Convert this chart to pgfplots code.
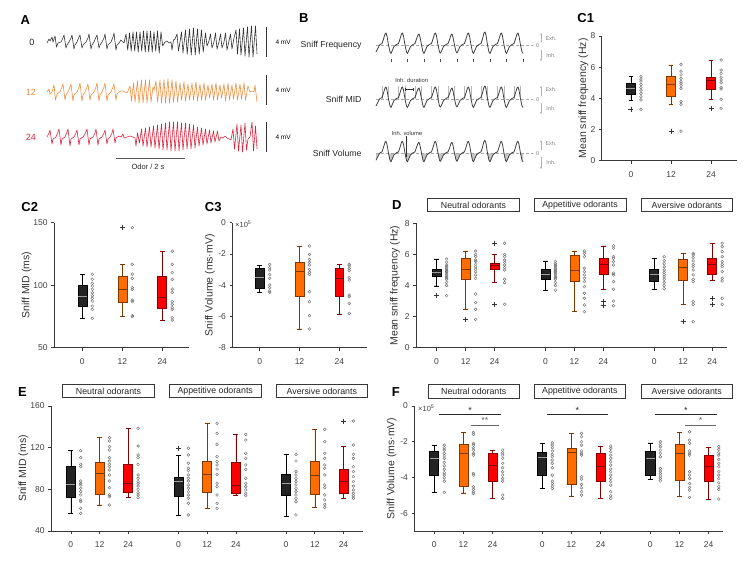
\documentclass[border=0pt]{standalone}
\usepackage{fontspec}
\setmainfont{Liberation Sans}
\usepackage{pgfplots}
\usepackage{pgfplotstable}
\pgfplotsset{compat=1.18}
\usepgfplotslibrary{statistics}
\usetikzlibrary{arrows.meta}

\definecolor{cOr}{RGB}{255,108,0}
\definecolor{cOrD}{RGB}{130,55,0}
\definecolor{cRd}{RGB}{250,0,0}
\definecolor{cRdD}{RGB}{135,0,0}
\definecolor{cBk}{RGB}{35,35,35}
\definecolor{cPt}{RGB}{115,115,115}
\definecolor{cAx}{RGB}{55,55,55}
\definecolor{cTK}{RGB}{50,50,50}
\definecolor{cTO}{RGB}{240,140,60}
\definecolor{cTR}{RGB}{220,35,60}

\pgfplotsset{
  bx/.style={
    scale only axis, axis lines=left,
    axis line style={-, draw=cAx, line width=0.6pt},
    tick align=outside, major tick length=2.8pt,
    tick style={draw=cAx, line width=0.6pt},
    ticklabel style={font=\fontsize{8.5}{10}\selectfont, text=black!75},
    xticklabel style={yshift=-4.5pt},
    /pgf/number format/assume math mode=true,
    ylabel style={font=\fontsize{10.5}{12}\selectfont, text=black!80, anchor=center},
    clip=false, anchor=south west,
    boxplot/draw direction=y,
  },
  bxC/.style={bx, boxplot/box extend=0.225, boxplot/whisker extend=0.12, xtick={1,2,3}, xticklabels={0,12,24}},
  bxG/.style={bx, boxplot/box extend=0.31, boxplot/whisker extend=0.17},
  tr/.style={hide axis, scale only axis, clip=false, anchor=west, width=210pt, height=40pt, xmin=0, xmax=210, ymin=-20, ymax=20},
  trb/.style={hide axis, scale only axis, clip=false, anchor=west, width=160pt, height=40pt, xmin=0, xmax=160, ymin=-20, ymax=20},
}

\newcommand{\bx}[9]{\addplot[boxplot prepared={draw direction=y, draw position=#1, lower whisker=#2, lower quartile=#3, median=#4, upper quartile=#5, upper whisker=#6}, fill=#7, draw=#8, line width=0.55pt, boxplot/every median/.style={draw=#9, line width=0.7pt}] coordinates {};}
\newcommand{\bxK}[6]{\bx{#1}{#2}{#3}{#4}{#5}{#6}{cBk}{black}{gray!75}}
\newcommand{\bxO}[6]{\bx{#1}{#2}{#3}{#4}{#5}{#6}{cOr}{cOrD}{cOrD}}
\newcommand{\bxR}[6]{\bx{#1}{#2}{#3}{#4}{#5}{#6}{cRd}{cRdD}{cRdD}}
\newcommand{\pts}[2]{\addplot[only marks, mark=o, mark size=1.4pt, draw=cPt, line width=0.45pt] table[header=false, x expr=#1, y index=0, row sep=\\] {#2};}
\newcommand{\ol}[2]{\addplot[only marks, mark=+, mark size=2.5pt, draw=black!80, line width=0.6pt] coordinates {(#1,#2)};}

% one idealised sniff trace used in panel B
\pgfplotstableread{
x y
0 -7
1.5 -4
3 -1
4 0.5
6 1.5
7.5 6
9 11
10 12
11 9
12.5 0
14 -7
15 -8.5
16.5 -5
18 -1.5
20.5 0.5
22.5 1.5
24 6
25.5 11
26.5 12
27.5 9
29 0
30.5 -7
31.5 -8.5
33 -5
34.5 -1.5
37 0.5
39 1.5
40.5 6
42 10
43 11
44 8
45.5 0
47 -7
48 -8.5
49.5 -5
51 -1.5
53.5 0.5
55.5 1.5
57 6
58.5 11
59.5 12
60.5 9
62 0
63.5 -7
64.5 -8
66 -5
67.5 -1.5
70 0.5
72 1.5
73.5 5
75 10
76 11
77 8
78.5 0
80 -6.5
81 -8
82.5 -5
84 -1.5
86.5 0.5
88.5 1.5
90 6
91.5 11
92.5 12
93.5 9
95 0
96.5 -7
97.5 -8.5
99 -5
100.5 -1.5
103 0.5
105 1.5
106.5 6
108 12
109 13
110 10
111.5 0
113 -7
114 -8.5
115.5 -5
117 -1.5
119.5 0.5
121.5 1.5
123 6
124.5 11
125.5 12
126.5 9
128 0
129.5 -7
130.5 -8.5
132 -5
133.5 -1.5
136 0.5
138 1.5
139.5 6
141 11
142 12
143 9
144.5 0
146 -7
147 -8.5
}\tblB

\begin{document}
\begin{tikzpicture}
\path[use as bounding box] (0,0) rectangle (756pt,-565pt);

% ================= Panel A traces =================
\begin{axis}[tr, at={(47pt,-42pt)}]
\addplot[cTK, line width=0.6pt, line join=round] coordinates {
(0,-1)(2,3)(3,1)(5,5)(6,0)(8,6)(9.5,-5)(11,-1)
(14,0)(16,4)(17,7)(19,-6)(20,-3)
(22,0)(24,4)(25,7)(27,-7)(28,-3)
(30,0)(32,5)(33,7)(35,-6)(36,-3)
(39,0)(41,4)(42,8)(44,-7)(45,-3)
(47,0)(49,5)(50,7)(52,-6)(53,-3)
(55,0)(57,4)(58,8)(60,-7)(61,-3)
(64,0)(66,5)(67,9)(69,-8)(70,-3)
(72,-1)(74,2)(75,1)(77,-1)
(79,8)(80.7,-8)(82.5,9)(84.2,-9)(86,10)(87.7,-9)(89.5,10)(91.2,-10)(93,10)(94.7,-9)(96.5,11)(98.2,-10)(100,11)(101.7,-10)(103.5,11)(105.2,-10)(107,10)(108.7,-9)(110.5,11)(112.2,-11)(114,10)(115.7,-4)
(118,0)(120,1)(122,-1)(124,0)(125,-8)(126.5,2)
(128,3)(130,8)(131.5,-9)(133,0)(134.5,10)(136,-11)(138.5,12)(140.2,-12)(142.5,13)(144.2,-13)(146.5,14)(148.2,-13)(150.5,13)(152.2,-12)(154.5,12)(156.2,-10)(158.5,9)(160,-4)
(162,1)(163.5,8)(165,-6)(167,0)(168.5,9)(170,-7)(172,0)(173.5,8)(175,-6)(177,0)(178.5,9)(180,-8)(182,1)(183.5,8)(185,-7)
(187,4)(189,12)(190.5,-12)(192.5,13)(194,-13)(196.5,14)(198,-14)(200.5,15)(202,-15)(204.5,16)(206,-15)(208.5,16)(210,-12)};
\end{axis}

\begin{axis}[tr, at={(47pt,-92pt)}]
\addplot[cTO, line width=0.6pt, line join=round] coordinates {
(0,0)(2,3)(3,-2)(5,0)(7,7)(8.5,-8)(10,-2)
(13,0)(15,5)(16,8)(18,-8)(19,-3)
(21,0)(23,5)(24,8)(26,-9)(27,-3)
(30,0)(32,5)(33,9)(35,-9)(36,-3)
(38,0)(40,5)(41,8)(43,-8)(44,-3)
(47,0)(49,5)(50,9)(52,-9)(53,-3)
(55,0)(57,5)(58,9)(60,-9)(61,-3)
(64,0)(66,5)(67,8)(69,-8)(70,-2)
(72,0)(74,1)(76,1)(78,0)(80,-1)(81,1)
(83,6)(84.5,-9)(86.5,9)(88,-10)(90.5,11)(92,-11)(94.5,12)(96,-11)(98.5,12)(100,-11)(102.5,12)(104,-10)(106,5)(107,2)(109,11)(110.5,-10)(113,12)(114.5,-11)(117,12)(118.5,-11)(121,13)(122.5,-11)(125,12)(126.5,-10)(129,11)(130.5,-10)(133,9)(134.5,-8)(137,10)(138.5,-9)(141,8)(142.5,-8)(145,9)(146.5,-8)(149,10)(150.5,-9)(153,8)(154.5,-8)(157,9)(158.5,-8)(161,7)(162.5,-6)(165,8)(166.5,-8)(169,9)(170.5,-8)(173,7)(174.5,-6)(177,8)(178.5,-9)(181,9)(182.5,-8)(185,7)(186.5,-7)(189,9)(190.5,-8)(193,8)(194.5,-7)(197,9)(198.5,-8)(201,6)(203,0)(205,1)(207,0)(208,7)(210,-10)};
\end{axis}

\begin{axis}[tr, at={(47pt,-137pt)}]
\addplot[cTR, line width=0.6pt, line join=round] coordinates {
(0,0)(2,4)(3,7)(5,-7)(6,-2)
(9,0)(11,5)(12,8)(14,-8)(15,-2)
(18,0)(20,5)(21,8)(23,-9)(24,-2)
(27,0)(29,4)(30,7)(32,-8)(33,-2)
(36,0)(38,3)(40,8)(42,-8)(43,-2)
(46,0)(48,4)(49,8)(51,-8)(52,-2)
(55,0)(57,4)(58,7)(60,-7)(61,-2)
(63,0)(65,4)(66,8)(68,-6)(69,-1)
(72,1)(74,0)(76,3)(77,-1)(80,0)(83,1)(86,0)(88,-1)
(89,-9)(90.5,4)(92.5,-6)(94.5,8)(96,-9)(98.5,9)(100,-10)(102.5,10)(104,-10)(106.5,11)(108,-11)(110.5,12)(112,-12)(114.5,13)(116,-13)(118.5,14)(120,-13)(122.5,15)(124,-14)(126.5,15)(128,-14)(130.5,15)(132,-14)(134.5,14)(136,-13)(138.5,14)(140,-12)(142.5,13)(144,-12)(146.5,12)(148,-11)(150.5,10)(152,-9)(154.5,9)(156,-8)(158.5,8)(160,-7)(162.5,7)(164,-6)(166.5,6)(168,-5)(170.5,6)(172,-4)
(174,0)(176,-1)(178,1)(180,-1)(182,-2)(184,-3)
(186,8)(187.5,-12)(190,13)(191.5,-14)(194,12)(195.5,-15)(198,14)(199.5,-13)(201,-2)(203,0)(205,15)(206.5,-14)(208.5,11)(210,-12)};
\end{axis}

% ================= Panel B traces =================
\begin{axis}[trb, at={(376pt,-45pt)}]
\draw[densely dashed, gray!70, line width=0.5pt] (axis cs:0,0) -- (axis cs:157,0);
\addplot[black!75, line width=0.8pt, line join=round] table[x=x, y=y] {\tblB};
\addplot[only marks, mark=|, mark size=1.6pt, draw=black!70, line width=0.6pt] coordinates {(15,-15.5)(31.5,-15.5)(48,-15.5)(64.5,-15.5)(81,-15.5)(97.5,-15.5)(114,-15.5)(130.5,-15.5)(147,-15.5)};
\end{axis}

\begin{axis}[trb, at={(376pt,-99pt)}]
\addplot[ycomb, draw=gray!55, line width=0.35pt] coordinates {(6,13)(22.5,13)(39,13)(55.5,13)(72,13)(88.5,13)(105,13)(121.5,13)(138,13)(12.5,13)(29,13)(45.5,13)(62,13)(78.5,13)(95,13)(111.5,13)(128,13)(144.5,13)};
\draw[densely dashed, gray!70, line width=0.5pt] (axis cs:0,0) -- (axis cs:157,0);
\addplot[black!75, line width=0.8pt, line join=round] table[x=x, y=y] {\tblB};
\draw[black!80, line width=0.5pt] (axis cs:29,8.2) -- (axis cs:29,11.2) (axis cs:29,9.7) -- (axis cs:37.3,9.7) (axis cs:37.3,8.2) -- (axis cs:37.3,11.2);
\end{axis}

\begin{axis}[trb, at={(376pt,-153.3pt)}]
\addplot[fill=gray!45, draw=none] table[x=x, y expr={min(\thisrow{y},0)}] {\tblB} \closedcycle;
\draw[densely dashed, gray!70, line width=0.5pt] (axis cs:0,0) -- (axis cs:157,0);
\addplot[black!75, line width=0.8pt, line join=round] table[x=x, y=y] {\tblB};
\draw[black!80, line width=0.6pt] (axis cs:30,17) -- (axis cs:30,-4);
\end{axis}

% ================= C1 =================
\begin{axis}[bxC, at={(601.7pt,-160.7pt)}, width=135pt, height=124.7pt,
  xmin=0.27, xmax=3.64, ymin=0, ymax=8, ytick={0,2,4,6,8},
  ylabel={Mean sniff frequency (Hz)}, ylabel style={at={(axis description cs:-0.136,0.5)}}]
\bxK{1}{3.89}{4.28}{4.62}{4.98}{5.39}
\bxO{2}{3.61}{4.15}{4.9}{5.39}{6.14}
\bxR{3}{3.94}{4.6}{5.18}{5.35}{6.46}
\ol{1}{3.29}\ol{2}{1.9}\ol{3}{3.36}
\pts{1.25}{5.39\\5.24\\5.11\\4.9\\4.7\\4.53\\4.32\\4.1\\3.9\\3.29\\}
\pts{2.25}{6.18\\5.75\\5.5\\5.28\\5.07\\4.96\\4.81\\4.64\\3.79\\3.61\\1.9\\}
\pts{3.25}{6.46\\5.82\\5.6\\5.35\\5.18\\5.0\\4.7\\4.6\\3.94\\3.36\\}
\end{axis}

% ================= C2 =================
\begin{axis}[bxC, at={(54pt,-347.7pt)}, width=135pt, height=125pt,
  xmin=0.29, xmax=3.67, ymin=50, ymax=150, ytick={50,100,150},
  ylabel={Sniff MID (ms)}, ylabel style={at={(axis description cs:-0.202,0.5)}}]
\bxK{1}{73.5}{82.8}{91.3}{100.1}{108.7}
\bxO{2}{74.8}{86}{96.9}{107.3}{116.7}
\bxR{3}{72.1}{81.5}{90.3}{107.3}{126.8}
\ol{2}{146}
\pts{1.25}{108.7\\104.7\\101.5\\99.3\\96.7\\94\\91.6\\89.5\\87.3\\83.3\\80.7\\73.5\\}
\pts{2.25}{146\\116.7\\108.9\\105.5\\98\\96.7\\88.1\\86.8\\75.6\\74.8\\}
\pts{3.25}{127.3\\116.7\\110\\104.7\\96.9\\94.3\\86.8\\84.7\\82\\80.7\\74\\72.1\\}
\end{axis}

% ================= C3 =================
\begin{axis}[bxC, at={(232.3pt,-347.7pt)}, width=134.4pt, height=125pt,
  xmin=0.31, xmax=3.69, ymin=-8, ymax=0, ytick={-8,-6,-4,-2,0},
  ylabel={Sniff Volume (ms·mV)}, ylabel style={at={(axis description cs:-0.166,0.5)}}]
\bxK{1}{-4.46}{-4.2}{-3.5}{-2.92}{-2.71}
\bxO{2}{-6.8}{-4.74}{-3.14}{-2.54}{-1.49}
\bxR{3}{-5.87}{-4.74}{-3.56}{-2.92}{-2.67}
\pts{1.25}{-2.67\\-2.88\\-3.03\\-3.31\\-3.56\\-3.99\\-4.16\\-4.37\\-4.46\\}
\pts{2.25}{-1.49\\-2.03\\-2.35\\-2.54\\-2.71\\-2.99\\-3.18\\-3.31\\-4.42\\-5.06\\-5.95\\-6.8\\}
\pts{3.25}{-2.67\\-2.77\\-2.92\\-3.07\\-3.52\\-3.67\\-4.63\\-4.74\\-5.16\\-5.8\\}
\end{axis}

% ================= D =================
\begin{axis}[bxG, at={(416pt,-347.7pt)}, width=310.7pt, height=124.4pt,
  xmin=-0.71, xmax=10.0, ymin=0, ymax=8, ytick={0,2,4,6,8},
  xtick={0,1,2,3.75,4.75,5.75,7.5,8.5,9.5}, xticklabels={0,12,24,0,12,24,0,12,24},
  ylabel={Mean sniff frequency (Hz)}, ylabel style={at={(axis description cs:-0.0676,0.5)}}]
\bxK{0}{3.97}{4.57}{4.83}{5.06}{5.71}
\bxO{1}{2.47}{4.4}{5.04}{5.75}{6.22}
\bxR{2}{4.18}{5.04}{5.32}{5.43}{6.0}
\ol{0}{3.35}\ol{1}{1.82}\ol{2}{6.72}\ol{2}{2.79}
\pts{0.345}{5.7\\5.5\\5.3\\5.2\\5.1\\5.0\\4.9\\4.8\\4.7\\4.6\\4.5\\4.4\\4.2\\4.0\\3.35\\}
\pts{1.345}{6.22\\6.0\\5.86\\5.64\\5.54\\5.36\\5.21\\5.04\\4.89\\4.68\\4.46\\3.45\\2.9\\2.47\\1.82\\}
\pts{2.345}{6.72\\6.0\\5.86\\5.64\\5.49\\5.32\\5.15\\5.0\\4.4\\4.18\\2.79\\}
\bxK{3.75}{3.71}{4.42}{4.74}{5.04}{5.58}
\bxO{4.75}{2.32}{4.25}{4.95}{5.97}{6.22}
\bxR{5.75}{3.76}{4.74}{5.36}{5.75}{6.55}
\ol{5.75}{3.0}\ol{5.75}{2.7}
\pts{4.095}{5.55\\5.4\\5.3\\5.2\\5.1\\5.0\\4.9\\4.8\\4.7\\4.6\\4.5\\4.4\\4.2\\4.0\\3.7\\}
\pts{5.095}{6.22\\6.07\\5.86\\5.11\\4.89\\4.68\\4.46\\4.25\\3.93\\3.5\\3.18\\2.75\\2.32\\}
\pts{6.095}{6.55\\6.39\\5.86\\5.75\\5.54\\5.32\\4.79\\4.68\\4.25\\3.76\\3.0\\2.7\\}
\bxK{7.5}{3.76}{4.29}{4.72}{5.04}{5.75}
\bxO{8.5}{2.81}{4.36}{5.15}{5.69}{6.07}
\bxR{9.5}{4.31}{4.74}{5.36}{5.75}{6.72}
\ol{8.5}{1.67}\ol{9.5}{3.18}\ol{9.5}{2.79}
\pts{7.845}{5.85\\5.6\\5.4\\5.2\\5.0\\4.85\\4.7\\4.55\\4.4\\4.2\\4.0\\3.8\\}
\pts{8.845}{6.07\\5.97\\5.79\\5.58\\5.36\\5.21\\5.0\\4.68\\4.4\\4.25\\2.96\\2.79\\1.67\\}
\pts{9.845}{6.72\\6.5\\6.18\\5.86\\5.54\\5.36\\5.21\\4.89\\4.46\\4.29\\3.18\\2.79\\}
\end{axis}

% ================= E =================
\begin{axis}[bxG, at={(51pt,-531pt)}, width=312.3pt, height=125pt,
  xmin=-0.69, xmax=10.19, ymin=40, ymax=160, ytick={40,80,120,160},
  xtick={0,1,2,3.75,4.75,5.75,7.5,8.5,9.5}, xticklabels={0,12,24,0,12,24,0,12,24},
  ylabel={Sniff MID (ms)}, ylabel style={at={(axis description cs:-0.0887,0.5)}}]
\bxK{0}{57}{72}{84.8}{101.8}{117.1}
\bxO{1}{65}{75.2}{95}{105.6}{129.6}
\bxR{2}{72}{76.8}{85.8}{104}{138.6}
\pts{0.345}{117.1\\110.4\\104\\101.8\\88\\85.8\\84.2\\81\\77.8\\74.6\\69.8\\68.2\\61.8\\57\\}
\pts{1.345}{129.6\\126.4\\121\\117.8\\110.4\\107.2\\104\\101.8\\98.6\\93.8\\88\\81.6\\74.6\\73\\65\\}
\pts{2.345}{138.6\\121.6\\113\\110.4\\104\\93.8\\90.6\\87.4\\85.8\\83.2\\80\\76.8\\74.6\\72\\}
\bxK{3.75}{54.7}{73}{87.4}{91.2}{112.3}
\bxO{4.75}{61.8}{77.1}{94.4}{107.2}{143.4}
\bxR{5.75}{73.9}{76.2}{84.2}{105.9}{132.8}
\ol{3.75}{119.4}
\pts{4.095}{119.4\\113\\105\\100.2\\98\\93.8\\90.6\\88\\84.2\\81\\77.8\\74.6\\71.4\\66.6\\55.4\\}
\pts{5.095}{143.4\\133.8\\123.2\\111.4\\106.6\\103.4\\99.5\\94.4\\85.8\\82.6\\74.6\\66.6\\61.8\\}
\pts{6.095}{132.8\\127.4\\114.6\\109.8\\103.4\\99.2\\90.6\\85.8\\82.6\\79.4\\76.2\\73.9\\}
\bxK{7.5}{53.8}{73.9}{85.8}{94.4}{113.6}
\bxO{8.5}{62.7}{75.2}{93.8}{107.2}{137.6}
\bxR{9.5}{71.4}{76.2}{87.4}{99.2}{121.6}
\ol{9.5}{145.6}
\pts{7.845}{113.6\\107.2\\97\\93.8\\90.6\\87.4\\84.2\\81\\77.8\\74.6\\71.4\\68.2\\55.4\\}
\pts{8.845}{137.6\\125.8\\114.6\\109.8\\103.4\\100.2\\93.8\\84.2\\81.6\\74.6\\69.8\\65.6\\62.7\\}
\pts{9.845}{145.6\\122.6\\113.6\\109.8\\101.8\\97\\92.2\\87.4\\83.2\\79.4\\76.2\\73.9\\71.4\\}
\end{axis}

% ================= F =================
\begin{axis}[bxG, at={(414.3pt,-531pt)}, width=309pt, height=125pt,
  xmin=-0.68, xmax=9.9, ymin=-7, ymax=0, ytick={-6,-4,-2,0},
  xtick={0,1,2,3.7,4.7,5.7,7.4,8.4,9.4}, xticklabels={0,12,24,0,12,24,0,12,24},
  ylabel={Sniff Volume (ms·mV)}, ylabel style={at={(axis description cs:-0.073,0.5)}}]
\bxK{0}{-4.84}{-3.87}{-2.93}{-2.52}{-2.19}
\bxO{1}{-4.86}{-4.52}{-2.65}{-2.15}{-1.48}
\bxR{2}{-5.18}{-4.24}{-3.31}{-2.62}{-2.47}
\pts{0.345}{-2.19\\-2.34\\-2.47\\-2.65\\-2.8\\-2.93\\-3.16\\-3.35\\-3.55\\-3.74\\-3.87\\-4.02\\-4.21\\-4.84\\}
\pts{1.345}{-1.48\\-1.59\\-2.09\\-2.19\\-2.34\\-2.47\\-2.65\\-2.75\\-3.78\\-3.87\\-4.52\\-4.67\\-4.8\\-4.9\\}
\pts{2.345}{-2.47\\-2.62\\-2.75\\-2.93\\-3.21\\-3.46\\-3.68\\-3.87\\-4.06\\-4.21\\-4.99\\-5.18\\}
\bxK{3.7}{-4.62}{-3.87}{-2.86}{-2.6}{-2.09}
\bxO{4.7}{-5.03}{-4.39}{-2.6}{-2.37}{-1.53}
\bxR{5.7}{-5.18}{-4.24}{-3.36}{-2.65}{-2.24}
\pts{4.045}{-2.06\\-2.19\\-2.34\\-2.52\\-2.71\\-2.84\\-3.03\\-3.21\\-3.46\\-3.87\\-4.21\\-4.34\\-4.49\\-4.62\\}
\pts{5.045}{-1.53\\-1.72\\-2.0\\-2.19\\-2.52\\-2.65\\-2.75\\-3.96\\-4.09\\-4.39\\-4.58\\-4.8\\-4.99\\}
\pts{6.045}{-2.24\\-2.37\\-2.56\\-2.75\\-2.93\\-3.12\\-3.31\\-3.53\\-3.68\\-3.87\\-4.06\\-4.24\\-4.43\\-4.8\\-5.03\\-5.18\\}
\bxK{7.4}{-4.11}{-3.87}{-2.93}{-2.56}{-2.06}
\bxO{8.4}{-5.08}{-4.15}{-2.65}{-2.15}{-1.48}
\bxR{9.4}{-5.21}{-4.24}{-3.36}{-2.75}{-2.32}
\pts{7.745}{-2.0\\-2.15\\-2.28\\-2.47\\-2.65\\-2.84\\-3.5\\-3.64\\-3.78\\-3.93\\-4.06\\-4.19\\}
\pts{8.745}{-1.44\\-1.91\\-2.09\\-2.52\\-2.65\\-2.75\\-3.68\\-3.87\\-4.06\\-4.34\\-4.56\\-4.71\\-5.12\\}
\pts{9.745}{-2.28\\-2.43\\-2.62\\-2.75\\-2.99\\-3.21\\-3.4\\-3.68\\-3.87\\-4.06\\-4.3\\-4.52\\-4.67\\-5.21\\}
% significance bars
\draw[black!85, line width=0.6pt] (axis cs:0.18,-0.465) -- (axis cs:2.29,-0.465) node[midway, above=-2.5pt, font=\fontsize{9}{10}\selectfont] {*};
\draw[black!60, line width=0.6pt] (axis cs:1.25,-1.06) -- (axis cs:2.23,-1.06) node[midway, above=-2.5pt, font=\fontsize{9}{10}\selectfont] {**};
\draw[black!85, line width=0.6pt] (axis cs:3.85,-0.465) -- (axis cs:5.96,-0.465) node[midway, above=-2.5pt, font=\fontsize{9}{10}\selectfont] {*};
\draw[black!85, line width=0.6pt] (axis cs:7.56,-0.465) -- (axis cs:9.68,-0.465) node[midway, above=-2.5pt, font=\fontsize{9}{10}\selectfont] {*};
\draw[black!60, line width=0.6pt] (axis cs:8.59,-1.06) -- (axis cs:9.65,-1.06) node[midway, above=-2.5pt, font=\fontsize{9}{10}\selectfont] {*};
\end{axis}

% ================= annotations (pixel coordinates) =================
\begin{scope}[x=1pt, y=-1pt]
% panel letters
\begin{scope}[every node/.style={font=\bfseries\fontsize{13}{14}\selectfont}]
\node at (25.3,20) {A};
\node at (303.7,18.3) {B};
\node at (585.7,18.3) {C1};
\node at (29.7,206.7) {C2};
\node at (213.3,206.7) {C3};
\node at (396.7,205) {D};
\node at (22.5,391.7) {E};
\node at (395.8,391.7) {F};
\end{scope}
% panel A labels
\node[font=\fontsize{9}{10}\selectfont, text=black!85] at (32,42) {0};
\node[font=\fontsize{9}{10}\selectfont, text=cTO] at (31,92) {12};
\node[font=\fontsize{9}{10}\selectfont, text=cTR] at (31,137) {24};
\draw[black!80, line width=0.9pt] (266,27) -- (266,57) (266,75) -- (266,105) (266,122) -- (266,152);
\node[anchor=west, font=\fontsize{6.5}{7}\selectfont] at (272,42) {4 mV};
\node[anchor=west, font=\fontsize{6.5}{7}\selectfont] at (272,90) {4 mV};
\node[anchor=west, font=\fontsize{6.5}{7}\selectfont] at (272,137) {4 mV};
\draw[black!65, line width=0.8pt] (116,158.3) -- (185,158.3);
\node[font=\fontsize{7.5}{8}\selectfont, text=black!85] at (148,167) {Odor / 2 s};
% panel B labels
\node[anchor=east, font=\fontsize{8.7}{10}\selectfont, text=black!85] at (365,45) {Sniff Frequency};
\node[anchor=east, font=\fontsize{8.7}{10}\selectfont, text=black!85] at (365,99) {Sniff MID};
\node[anchor=east, font=\fontsize{8.7}{10}\selectfont, text=black!85] at (365,153) {Sniff Volume};
\node[font=\fontsize{5.8}{6}\selectfont, text=black!80] at (411.7,80) {Inh. duration};
\node[font=\fontsize{5.8}{6}\selectfont, text=black!80] at (407,133.3) {Inh. volume};
\begin{scope}[every node/.style={font=\fontsize{5.5}{6}\selectfont, text=gray}]
\node at (551,38.3) {Exh.}; \node at (537.7,46) {0}; \node at (551,56) {Inh.};
\node at (551,90) {Exh.}; \node at (537.7,99.3) {0}; \node at (551,108.3) {Inh.};
\node at (551,144) {Exh.}; \node at (537.7,154) {0}; \node at (551,162.7) {Inh.};
\end{scope}
\draw[gray!60, line width=0.4pt, -{Stealth[length=2pt,width=2pt]}] (541,42) -- (541,33);
\draw[gray!60, line width=0.4pt, -{Stealth[length=2pt,width=2pt]}] (541,50) -- (541,61);
\draw[gray!60, line width=0.4pt, -{Stealth[length=2pt,width=2pt]}] (541,96) -- (541,86);
\draw[gray!60, line width=0.4pt, -{Stealth[length=2pt,width=2pt]}] (541,103) -- (541,114);
\draw[gray!60, line width=0.4pt, -{Stealth[length=2pt,width=2pt]}] (541,150) -- (541,140);
\draw[gray!60, line width=0.4pt, -{Stealth[length=2pt,width=2pt]}] (541,157) -- (541,169);
% headers
\begin{scope}[every node/.style={draw=cAx, line width=0.5pt, minimum width=91.6pt, minimum height=13.4pt, inner sep=0pt, font=\fontsize{8.8}{10}\selectfont, text=black!85}]
\node at (473.5,205) {Neutral odorants};
\node at (580,205) {Appetitive odorants};
\node at (686.8,205) {Aversive odorants};
\node at (108.5,391) {Neutral odorants};
\node at (215.2,391) {Appetitive odorants};
\node at (321.8,391) {Aversive odorants};
\node at (473.7,391.3) {Neutral odorants};
\node at (579.8,391.3) {Appetitive odorants};
\node at (686.7,391.3) {Aversive odorants};
\end{scope}
% exponent labels
\node[anchor=west, font=\fontsize{7.5}{8}\selectfont, text=black!75, inner sep=0pt] at (235,224.5) {×10\textsuperscript{5}};
\node[anchor=west, font=\fontsize{7.5}{8}\selectfont, text=black!75, inner sep=0pt] at (418,408) {×10\textsuperscript{5}};
\end{scope}
\end{tikzpicture}
\end{document}
